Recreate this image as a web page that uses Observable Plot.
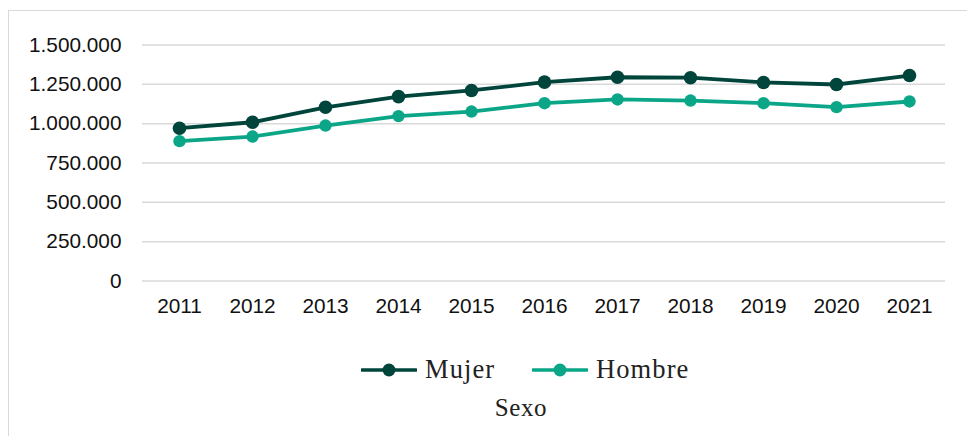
<!DOCTYPE html>
<html>
<head>
<meta charset="utf-8">
<script src="https://cdn.jsdelivr.net/npm/d3@7"></script>
<script src="https://cdn.jsdelivr.net/npm/@observablehq/plot@0.6"></script>
<style>
  html, body { margin: 0; padding: 0; background: #fff; }
  #wrap { position: relative; width: 967px; height: 436px; overflow: hidden; }
  #frame { position: absolute; left: 8px; top: 10px; width: 1000px; height: 500px;
           border-top: 1.5px solid #d9d9d9; border-left: 1.5px solid #d9d9d9; pointer-events: none; }
  #chart { position: absolute; left: 0; top: 0; }
  #legend { position: absolute; left: 0; top: 349px; width: 967px; font-family: "Liberation Serif", serif; color: #222; }
  .item { position: absolute; top: 5px; display: flex; align-items: center; font-size: 26.5px; letter-spacing: 1.1px; }
  .item svg { margin-right: 8px; }
  #title { position: absolute; top: 45px; left: 0; width: 1042px; text-align: center; font-size: 25px; letter-spacing: 0.6px; }
</style>
</head>
<body>
<div id="wrap">
  <div id="chart"></div>
  <div id="legend"></div>
  <div id="frame"></div>
</div>
<script>
const years = [2011, 2012, 2013, 2014, 2015, 2016, 2017, 2018, 2019, 2020, 2021];
const mujer = [971000, 1009000, 1104000, 1172000, 1211000, 1264000, 1295000, 1292000, 1262000, 1249000, 1306000];
const hombre = [889000, 918000, 988000, 1048000, 1077000, 1130000, 1154000, 1147000, 1130000, 1105000, 1141000];
const seriesNames = ["Mujer", "Hombre"];
const seriesColors = ["#00453b", "#0ba688"];
const yTicks = [0, 250000, 500000, 750000, 1000000, 1250000, 1500000];
const legendTitle = "Sexo";

const rows = [];
years.forEach((y, i) => {
  rows.push({year: String(y), value: mujer[i], serie: "Mujer"});
  rows.push({year: String(y), value: hombre[i], serie: "Hombre"});
});
const fmt = d => d3.format(",")(d).replace(/,/g, ".");

const chart = Plot.plot({
  width: 967,
  height: 330,
  marginLeft: 142,
  marginRight: 22,
  marginTop: 44.5,
  marginBottom: 49.5,
  style: {fontFamily: "'Liberation Sans', Arial, sans-serif", fontSize: "20.8px", color: "#111", background: "transparent"},
  x: {type: "point", domain: years.map(String), padding: 0.5, label: null},
  y: {domain: [0, 1500000], ticks: yTicks, label: null},
  color: {domain: seriesNames, range: seriesColors},
  marks: [
    Plot.gridY(yTicks, {stroke: "#d9d9d9", strokeOpacity: 1, strokeWidth: 1.5}),
    Plot.axisY(yTicks, {tickSize: 0, tickPadding: 21, tickFormat: fmt, label: null, fill: "#111"}),
    Plot.axisX({tickSize: 0, tickPadding: 17, label: null, fill: "#111"}),
    Plot.line(rows, {x: "year", y: "value", z: "serie", stroke: "serie", strokeWidth: 3.8}),
    Plot.dot(rows, {filter: d => d.serie === "Mujer", x: "year", y: "value", fill: "serie", r: 6.8}),
    Plot.dot(rows, {filter: d => d.serie === "Hombre", x: "year", y: "value", fill: "serie", r: 6.2})
  ]
});
document.getElementById("chart").appendChild(chart);

const legend = document.getElementById("legend");
const lefts = [361, 532];
seriesNames.forEach((name, i) => {
  const div = document.createElement("div");
  div.className = "item";
  div.style.left = lefts[i] + "px";
  div.innerHTML = `<svg width="56" height="20"><line x1="1" y1="10" x2="55" y2="10" stroke="${seriesColors[i]}" stroke-width="3.6" stroke-linecap="round"/><circle cx="28" cy="10" r="6.5" fill="${seriesColors[i]}"/></svg><span>${name}</span>`;
  legend.appendChild(div);
});
const t = document.createElement("div");
t.id = "title";
t.textContent = legendTitle;
legend.appendChild(t);
</script>
</body>
</html>
